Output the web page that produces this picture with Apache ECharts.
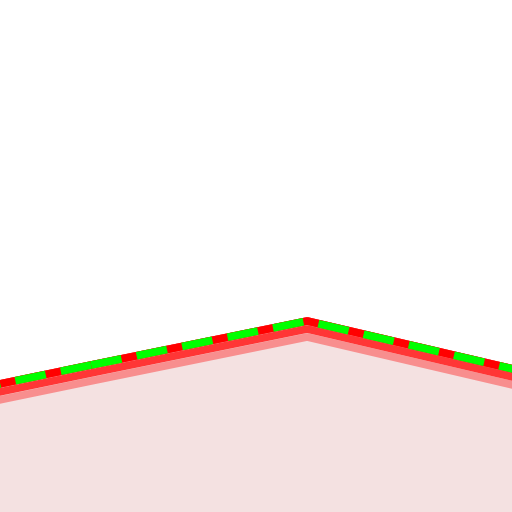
<!DOCTYPE html>
<html>
<head>
<meta charset="utf-8">
<script src="https://cdn.jsdelivr.net/npm/echarts@6/dist/echarts.min.js"></script>
<style>
  html, body { margin: 0; padding: 0; background: #ffffff; }
  #chart { width: 512px; height: 512px; }
</style>
</head>
<body>
<div id="chart"></div>
<script>
// Data (value x axis 0..100, value y axis 0..100)
const xValues = [-2, 17.8, 60, 102];
const yValues = [24.6, 28.7, 37.3, 27.5];
const breakIndex = 1; // dashed overlay restarts here

const allPoints = xValues.map((x, i) => [x, yValues[i]]);
const leftPoints = allPoints.slice(0, breakIndex + 1).reverse();
const rightPoints = allPoints.slice(breakIndex);

const W = 7.7;
const base = {
  type: 'line',
  showSymbol: false,
  symbol: 'none',
  silent: true,
  animation: false,
  clip: true
};

const chart = echarts.init(document.getElementById('chart'), null, { renderer: 'canvas' });
chart.setOption({
  animation: false,
  backgroundColor: '#ffffff',
  grid: { left: 0, right: 0, top: 0, bottom: 0, containLabel: false },
  xAxis: { type: 'value', min: 0, max: 100, show: false, splitLine: { show: false } },
  yAxis: { type: 'value', min: 0, max: 100, show: false, splitLine: { show: false } },
  tooltip: { show: false },
  series: [
    Object.assign({}, base, {
      name: 'area',
      data: allPoints,
      areaStyle: { color: '#f4e1e1', opacity: 1 },
      lineStyle: { color: '#f88e8e', width: W, shadowColor: '#f88e8e', shadowBlur: 0, shadowOffsetY: 16 }
    }),
    Object.assign({}, base, {
      name: 'band',
      data: allPoints,
      lineStyle: { color: '#ff3636', width: W, shadowColor: '#ff3636', shadowBlur: 0, shadowOffsetY: 8 }
    }),
    Object.assign({}, base, {
      name: 'line',
      data: allPoints,
      lineStyle: { color: '#ff0000', width: W }
    }),
    Object.assign({}, base, {
      name: 'dashLeft',
      data: leftPoints,
      lineStyle: { color: '#00ff00', width: W, type: [31, 15.4] }
    }),
    Object.assign({}, base, {
      name: 'dashRight',
      data: rightPoints,
      lineStyle: { color: '#00ff00', width: W, type: [31, 15.4] }
    })
  ]
});
</script>
</body>
</html>
